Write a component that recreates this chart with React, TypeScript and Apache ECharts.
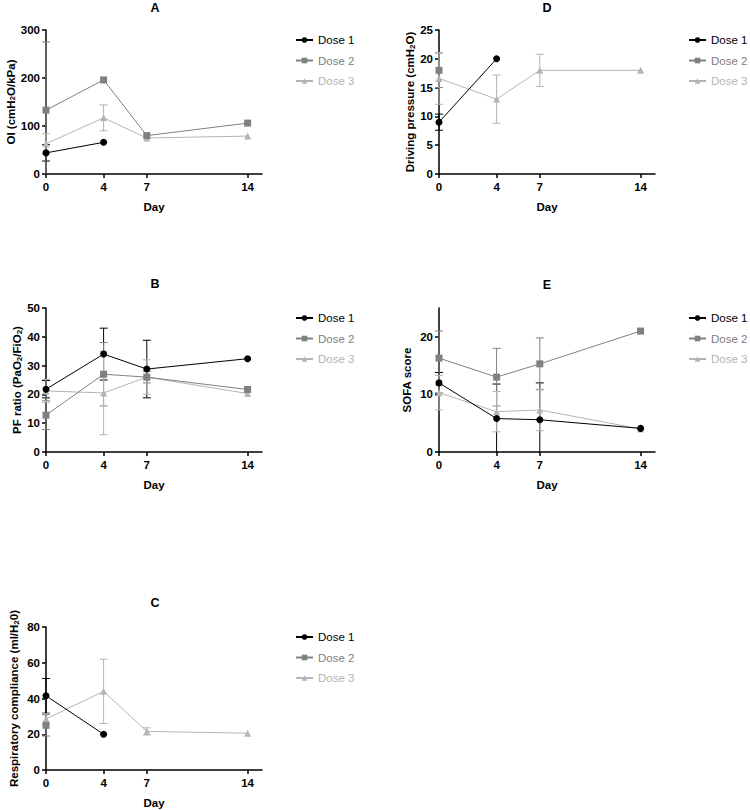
import React, { useEffect, useRef } from "react";
import * as echarts from "echarts";

// ---------- data ----------
const DAYS = [0, 4, 7, 14];
const DOSES = ["Dose 1", "Dose 2", "Dose 3"];
const PANEL_TITLES = ["A", "B", "C", "D", "E"];

// Panel A: OI
const A_MEAN = [
  [44, 66, null, null],
  [133, 196, 80, 106],
  [63, 117, 75, 79],
];
const A_SD = [
  [17, 0, null, null],
  [142, 0, 0, 0],
  [21, 27, 0, 0],
];
// Panel B: PF ratio
const B_MEAN = [
  [21.8, 34, 28.8, 32.4],
  [12.8, 27, 26, 21.7],
  [21.2, 20.5, 26, 20.3],
];
const B_SD = [
  [3, 9, 10, 0],
  [5, 11, 2, 0],
  [4, 14.5, 6, 0],
];
// Panel C: Respiratory compliance
const C_MEAN = [
  [41.5, 20, null, null],
  [25, null, null, null],
  [28.5, 44, 21.6, 20.6],
];
const C_SD = [
  [9.7, 0, null, null],
  [6, null, null, null],
  [3, 18, 2, 0],
];
// Panel D: Driving pressure
const D_MEAN = [
  [9, 20, null, null],
  [18, null, null, null],
  [16.6, 13, 18, 18],
];
const D_SD = [
  [1.4, 0, null, null],
  [3, null, null, null],
  [4.5, 4.2, 2.8, 0],
];
// Panel E: SOFA score
const E_MEAN = [
  [12, 5.8, 5.6, 4.1],
  [16.3, 13, 15.3, 21],
  [10.3, 7, 7.3, 4],
];
const E_SD = [
  [1.8, 6, 6.4, 0],
  [4.7, 5, 4.5, 0],
  [3, 3.5, 3.6, 0],
];

const Y_NAMES = [
  "OI (cmH{sub|2}O/kPa)",
  "PF ratio (PaO{sub|2}/FiO{sub|2})",
  "Respiratory compliance (ml/H{sub|2}0)",
  "Driving pressure (cmH{sub|2}O)",
  "SOFA score",
];
const Y_MAX = [300, 50, 80, 25, 25];
const Y_TICKS = [
  [0, 100, 200, 300],
  [0, 10, 20, 30, 40, 50],
  [0, 20, 40, 60, 80],
  [0, 5, 10, 15, 20, 25],
  [0, 10, 20],
];

// ---------- styles ----------
const COLORS = ["#000000", "#808080", "#b4b4b4"];
const SYMBOLS = ["circle", "rect", "triangle"];
const SYMBOL_SIZES = [7, 7, 7];
const FONT = "'Liberation Sans', Arial, Helvetica, sans-serif";

// layout per panel: grid left, top, height ; title pos ; legend pos
const LAYOUT = [
  { left: 46, top: 30, height: 144, tx: 155, ty: 1, lx: 295, ly: 33, gap: 22 },
  { left: 46, top: 308, height: 144, tx: 155, ty: 277, lx: 295, ly: 311, gap: 22 },
  { left: 46, top: 627, height: 143, tx: 155, ty: 596, lx: 295, ly: 630, gap: 26 },
  { left: 439, top: 30, height: 144, tx: 547, ty: 1, lx: 688, ly: 33, gap: 23 },
  { left: 439, top: 308, height: 144, tx: 547, ty: 278, lx: 688, ly: 311, gap: 26 },
];

const MEANS = [A_MEAN, B_MEAN, C_MEAN, D_MEAN, E_MEAN];
const SDS = [A_SD, B_SD, C_SD, D_SD, E_SD];

function buildOption() {
  const title: any[] = [];
  const legend: any[] = [];
  const grid: any[] = [];
  const xAxis: any[] = [];
  const yAxis: any[] = [];
  const series: any[] = [];

  LAYOUT.forEach((L, p) => {
    title.push({
      text: PANEL_TITLES[p],
      left: L.tx,
      top: L.ty,
      padding: 0,
      textAlign: "center",
      textStyle: { fontFamily: FONT, fontSize: 12.5, fontWeight: "bold", color: "#000" },
    });
    legend.push({
      left: L.lx,
      top: L.ly,
      orient: "vertical",
      padding: 0,
      itemGap: 6.5,
      itemWidth: 17,
      itemHeight: 7,
      selectedMode: false,
      textStyle: { fontFamily: FONT, fontSize: 11.5, lineHeight: 14 },
      data: DOSES.map((d, i) => ({ name: d, textStyle: { color: COLORS[i] } })),
    });
    grid.push({
      left: L.left,
      top: L.top,
      width: 216,
      height: L.height,
      outerBoundsMode: "none",
    });
    xAxis.push({
      type: "value",
      gridIndex: p,
      min: 0,
      max: 15,
      name: "Day",
      nameLocation: "middle",
      nameGap: 27,
      nameTextStyle: { fontFamily: FONT, fontSize: 11.5, fontWeight: "bold", color: "#000", verticalAlign: "top" },
      axisLine: { show: true, onZero: false, lineStyle: { color: "#000", width: 1.5 } },
      axisTick: { show: true, length: 4, lineStyle: { color: "#000", width: 1.5 }, customValues: DAYS },
      axisLabel: { customValues: DAYS, fontFamily: FONT, fontSize: 11.5, fontWeight: "bold", color: "#000", margin: 7 },
      splitLine: { show: false },
    });
    yAxis.push({
      type: "value",
      gridIndex: p,
      min: 0,
      max: Y_MAX[p],
      name: Y_NAMES[p],
      nameLocation: "middle",
      nameRotate: 90,
      nameGap: L.gap,
      nameTextStyle: {
        fontFamily: FONT,
        fontSize: 11.5,
        fontWeight: "bold",
        color: "#000",
        rich: {
          sub: { fontFamily: FONT, fontSize: 8, fontWeight: "bold", color: "#000", verticalAlign: "bottom", lineHeight: 8, padding: [9, 0, 0, 0] },
        },
      },
      axisLine: { show: true, onZero: false, lineStyle: { color: "#000", width: 1.5 } },
      axisTick: { show: true, length: 4, lineStyle: { color: "#000", width: 1.5 }, customValues: Y_TICKS[p] },
      axisLabel: { customValues: Y_TICKS[p], fontFamily: FONT, fontSize: 11.5, fontWeight: "bold", color: "#000", margin: 6 },
      splitLine: { show: false },
    });

    DOSES.forEach((dname, d) => {
      const means = MEANS[p][d];
      const sds = SDS[p][d];
      const errData: number[][] = [];
      DAYS.forEach((x, i) => {
        const m = means[i];
        const s = sds[i];
        if (m != null && s != null && s > 0) errData.push([x, m, s]);
      });
      series.push({
        type: "custom",
        name: "err" + p + d,
        xAxisIndex: p,
        yAxisIndex: p,
        z: 2,
        silent: true,
        encode: { x: 0, y: 1 },
        data: errData,
        renderItem: (params: any, api: any) => {
          const x = api.value(0);
          const m = api.value(1);
          const s = api.value(2);
          const lo = Math.max(0, m - s);
          const hi = m + s;
          const top = api.coord([x, hi]);
          const bot = api.coord([x, lo]);
          const st = { stroke: COLORS[d], lineWidth: 1 };
          const children: any[] = [
            { type: "line", shape: { x1: top[0], y1: top[1], x2: bot[0], y2: bot[1] }, style: st },
            { type: "line", shape: { x1: top[0] - 4, y1: top[1], x2: top[0] + 4, y2: top[1] }, style: st },
          ];
          if (m - s > 0) {
            children.push({ type: "line", shape: { x1: bot[0] - 4, y1: bot[1], x2: bot[0] + 4, y2: bot[1] }, style: st });
          }
          return { type: "group", children };
        },
      });
    });

    DOSES.forEach((dname, d) => {
      const means = MEANS[p][d];
      const data: number[][] = [];
      DAYS.forEach((x, i) => {
        if (means[i] != null) data.push([x, means[i] as number]);
      });
      series.push({
        type: "line",
        name: dname,
        xAxisIndex: p,
        yAxisIndex: p,
        z: 6 - d,
        data,
        symbol: SYMBOLS[d],
        symbolSize: SYMBOL_SIZES[d],
        showSymbol: true,
        itemStyle: { color: COLORS[d] },
        lineStyle: { color: COLORS[d], width: 1 },
        emphasis: { disabled: true },
      });
    });
  });

  return {
    animation: false,
    backgroundColor: "#ffffff",
    textStyle: { fontFamily: FONT },
    title,
    legend,
    grid,
    xAxis,
    yAxis,
    series,
  };
}

export default function App() {
  const ref = useRef<HTMLDivElement>(null);
  useEffect(() => {
    if (!ref.current) return;
    const chart = echarts.init(ref.current, undefined, { renderer: "svg" });
    chart.setOption(buildOption() as any);
    return () => chart.dispose();
  }, []);
  return (
    <div
      ref={ref}
      style={{ position: "fixed", left: 0, top: 0, width: 750, height: 810, background: "#fff" }}
    />
  );
}
